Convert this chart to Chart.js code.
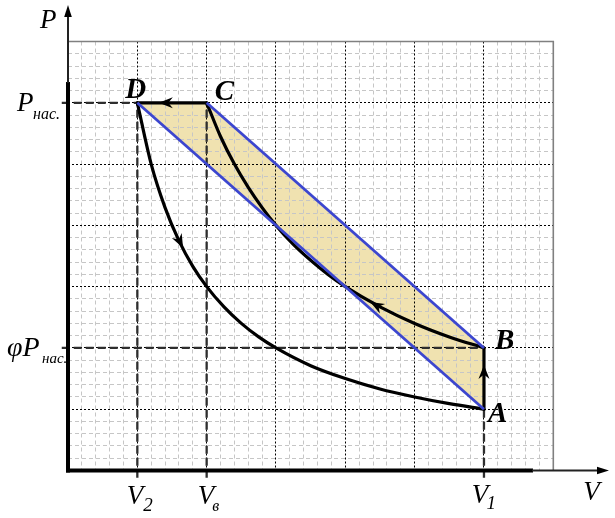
<!DOCTYPE html>
<html><head><meta charset="utf-8">
<script src="https://cdn.jsdelivr.net/npm/chart.js@4.4.1/dist/chart.umd.min.js"></script>
<style>html,body{margin:0;padding:0;background:#fff;overflow:hidden}canvas{display:block}</style>
</head><body>
<canvas id="c" width="615" height="518"></canvas>
<script>
// ---- data (grid units: V along x, P along y) ----
const pointNames = ['A', 'B', 'C', 'D'];
const pointV = [6, 6, 2, 1];
const pointP = [1, 2, 6, 6];

// curve B -> C
const curveBC_V = [2, 2.2, 2.4, 2.6, 2.8, 3, 3.25, 3.5, 3.75, 4, 4.5, 5, 5.5, 6];
const curveBC_P = [6, 5.45, 5, 4.62, 4.29, 4, 3.69, 3.43, 3.2, 3, 2.67, 2.4, 2.18, 2];
// curve D -> A
const curveDA_V = [1, 1.2, 1.4, 1.6, 1.8, 2, 2.25, 2.5, 2.75, 3, 3.5, 4, 4.5, 5, 5.5, 6];
const curveDA_P = [6, 5, 4.29, 3.75, 3.33, 3, 2.67, 2.4, 2.18, 2, 1.71, 1.5, 1.33, 1.2, 1.09, 1];

// arrow tips and directions along the cycle (DC, AB, BC, DA)
const arrowV = [1.31, 6, 4.36, 1.66];
const arrowP = [6, 1.72, 2.75, 3.63];
const arrowDirV = [-1, 0, -1, 1];
const arrowDirP = [0, 1, 0.63, -2.23];

// axis tick labels
const xTickValues = [1, 2, 6];
const xTickSubs = ['2', 'в', '1'];
const yTickValues = [6, 2];
const yTickMain = ['P', 'φP'];
const yTickSub = 'нас.';

const idx = n => pointNames.indexOf(n);
const P = n => ({ x: pointV[idx(n)], y: pointP[idx(n)] });
const pts = (vs, ps) => vs.map((v, i) => ({ x: v, y: ps[i] }));

const GUIDE = { borderColor: '#2e2e2e', borderWidth: 2.3, borderDash: [8, 4], showLine: true, pointRadius: 0, clip: false, order: 8, fill: false };
const BLACK = { borderColor: '#000', borderWidth: 3.2, showLine: true, pointRadius: 0, order: 3, fill: false, borderCapStyle: 'round', borderJoinStyle: 'round' };
const BLUE = { borderColor: '#3c46cf', borderWidth: 2.8, showLine: true, pointRadius: 0, order: 2, fill: false };

const datasets = [
  { data: [P('D'), P('C'), P('B'), P('A')], fill: 'shape', backgroundColor: '#f0e2b0', borderWidth: 0, showLine: true, pointRadius: 0, order: 10 },
  // guide lines
  Object.assign({ data: [{ x: -0.09, y: P('D').y }, P('D')] }, GUIDE),
  Object.assign({ data: [{ x: -0.09, y: P('B').y }, P('B')] }, GUIDE),
  Object.assign({ data: [{ x: P('D').x, y: -0.12 }, P('D')] }, GUIDE),
  Object.assign({ data: [{ x: P('C').x, y: -0.12 }, P('C')] }, GUIDE),
  Object.assign({ data: [{ x: P('A').x, y: -0.12 }, P('A')] }, GUIDE),
  // cycle
  Object.assign({ data: pts(curveBC_V, curveBC_P), cubicInterpolationMode: 'monotone' }, BLACK),
  Object.assign({ data: pts(curveDA_V, curveDA_P), cubicInterpolationMode: 'monotone' }, BLACK),
  Object.assign({ data: [P('D'), P('C')] }, BLACK),
  Object.assign({ data: [P('A'), P('B')] }, BLACK),
  // blue chords
  Object.assign({ data: [P('D'), P('A')] }, BLUE),
  Object.assign({ data: [P('C'), P('B')] }, BLUE)
];

const isInt = v => Math.abs(v - Math.round(v)) < 1e-6;

function arrowHead(ctx, x, y, ux, uy, len, hw, notch) {
  const bx = x - ux * len, by = y - uy * len;
  const nx = -uy, ny = ux;
  ctx.beginPath();
  ctx.moveTo(x, y);
  ctx.lineTo(bx + nx * hw, by + ny * hw);
  ctx.lineTo(x - ux * (len - notch), y - uy * (len - notch));
  ctx.lineTo(bx - nx * hw, by - ny * hw);
  ctx.closePath();
  ctx.fill();
}

const decor = {
  id: 'decor',
  beforeDatasetsDraw(chart) {
    const ctx = chart.ctx, a = chart.chartArea;
    ctx.save();
    ctx.strokeStyle = '#808080';
    ctx.lineWidth = 1.6;
    ctx.beginPath();
    ctx.moveTo(a.left, a.top); ctx.lineTo(a.right, a.top); ctx.lineTo(a.right, a.bottom);
    ctx.stroke();
    ctx.restore();
  },
  afterDatasetsDraw(chart) {
    const ctx = chart.ctx, sx = chart.scales.x, sy = chart.scales.y;
    const X = v => sx.getPixelForValue(v), Y = v => sy.getPixelForValue(v);
    const x0 = X(0), y0 = Y(0);
    ctx.save();
    // axes
    ctx.strokeStyle = '#000';
    ctx.lineCap = 'butt';
    ctx.lineWidth = 4;
    ctx.beginPath(); ctx.moveTo(x0, y0 + 2); ctx.lineTo(x0, 82); ctx.stroke();
    ctx.beginPath(); ctx.moveTo(x0 - 2, y0); ctx.lineTo(533, y0); ctx.stroke();
    ctx.strokeStyle = '#222';
    ctx.lineWidth = 2;
    ctx.beginPath(); ctx.moveTo(x0, 83); ctx.lineTo(x0, 12); ctx.stroke();
    ctx.beginPath(); ctx.moveTo(532, y0); ctx.lineTo(602, y0); ctx.stroke();
    ctx.fillStyle = '#000';
    arrowHead(ctx, x0, 5, 0, -1, 12, 3.8, 0);
    arrowHead(ctx, 609, y0, 1, 0, 12, 3.8, 0);
    // cycle arrows
    for (let i = 0; i < arrowV.length; i++) {
      const px = X(arrowV[i]), py = Y(arrowP[i]);
      const qx = X(arrowV[i] + arrowDirV[i] * 0.1), qy = Y(arrowP[i] + arrowDirP[i] * 0.1);
      const d = Math.hypot(qx - px, qy - py);
      arrowHead(ctx, px, py, (qx - px) / d, (qy - py) / d, 14, 5.5, 4.5);
    }
    // texts
    ctx.fillStyle = '#000';
    ctx.textAlign = 'left';
    ctx.textBaseline = 'alphabetic';
    const F = (s, style) => { ctx.font = style + ' ' + s + 'px "Liberation Serif", "Times New Roman", serif'; };
    // axis names
    F(27, 'italic'); ctx.fillText('P', x0 - 28, Y(7) - 13.5);
    F(27, 'italic'); ctx.fillText('V', X(7) + 30, y0 + 29.5);
    // y tick labels
    const yOff = [[-51, -35, 16.5, 16], [-61, -26, 15, 15]];
    yTickValues.forEach((v, i) => {
      F(i === 1 ? 28 : 27, 'italic'); ctx.fillText(yTickMain[i], x0 + yOff[i][0], Y(v) + 8);
      F(yOff[i][3], 'italic'); ctx.fillText(yTickSub, x0 + yOff[i][1], Y(v) + yOff[i][2]);
    });
    // x tick labels
    const xOff = [[-10.5, 6, 33, 40.5, 19], [-9, 5.5, 33, 40.5, 16], [-12.3, 2.5, 32, 38.5, 19]];
    xTickValues.forEach((v, i) => {
      F(27, 'italic'); ctx.fillText('V', X(v) + xOff[i][0], y0 + xOff[i][2]);
      F(xOff[i][4], 'italic'); ctx.fillText(xTickSubs[i], X(v) + xOff[i][1], y0 + xOff[i][3]);
    });
    // point names
    const lblOff = { A: [4, 13], B: [11, 1], C: [8, -3], D: [-12, -5] };
    F(29, 'italic bold');
    pointNames.forEach(n => {
      const o = lblOff[n];
      ctx.fillText(n, X(P(n).x) + o[0], Y(P(n).y) + o[1]);
    });
    ctx.restore();
  }
};

const minorGrid = { color: c => isInt(c.tick.value) ? 'rgba(0,0,0,0)' : '#c6c6c6', lineWidth: 1, drawTicks: false };
const majorGrid = { color: c => (c.tick.value <= 0 || c.tick.value >= 7) ? 'rgba(0,0,0,0)' : '#000', lineWidth: 1, drawTicks: false };

new Chart(document.getElementById('c'), {
  type: 'scatter',
  data: { datasets },
  options: {
    responsive: false,
    animation: false,
    devicePixelRatio: 1,
    layout: { padding: { left: 68, right: 61.7, top: 41.5, bottom: 47.5 } },
    plugins: { legend: { display: false }, tooltip: { enabled: false }, filler: { drawTime: 'beforeDraw' } },
    scales: {
      xm: { type: 'linear', position: 'bottom', min: 0, max: 7, z: -2, ticks: { display: false, stepSize: 0.2, maxTicksLimit: 100 }, grid: minorGrid, border: { display: false, dash: [4, 3] } },
      ym: { type: 'linear', position: 'left', min: 0, max: 7, z: -2, ticks: { display: false, stepSize: 0.2, maxTicksLimit: 100 }, grid: minorGrid, border: { display: false, dash: [4, 3] } },
      x: { type: 'linear', position: 'bottom', min: 0, max: 7, z: -1, ticks: { display: false, stepSize: 1 }, grid: majorGrid, border: { display: false, dash: [2, 2] } },
      y: { type: 'linear', position: 'left', min: 0, max: 7, z: -1, ticks: { display: false, stepSize: 1 }, grid: majorGrid, border: { display: false, dash: [2, 2] } }
    }
  },
  plugins: [decor]
});
</script>
</body></html>
